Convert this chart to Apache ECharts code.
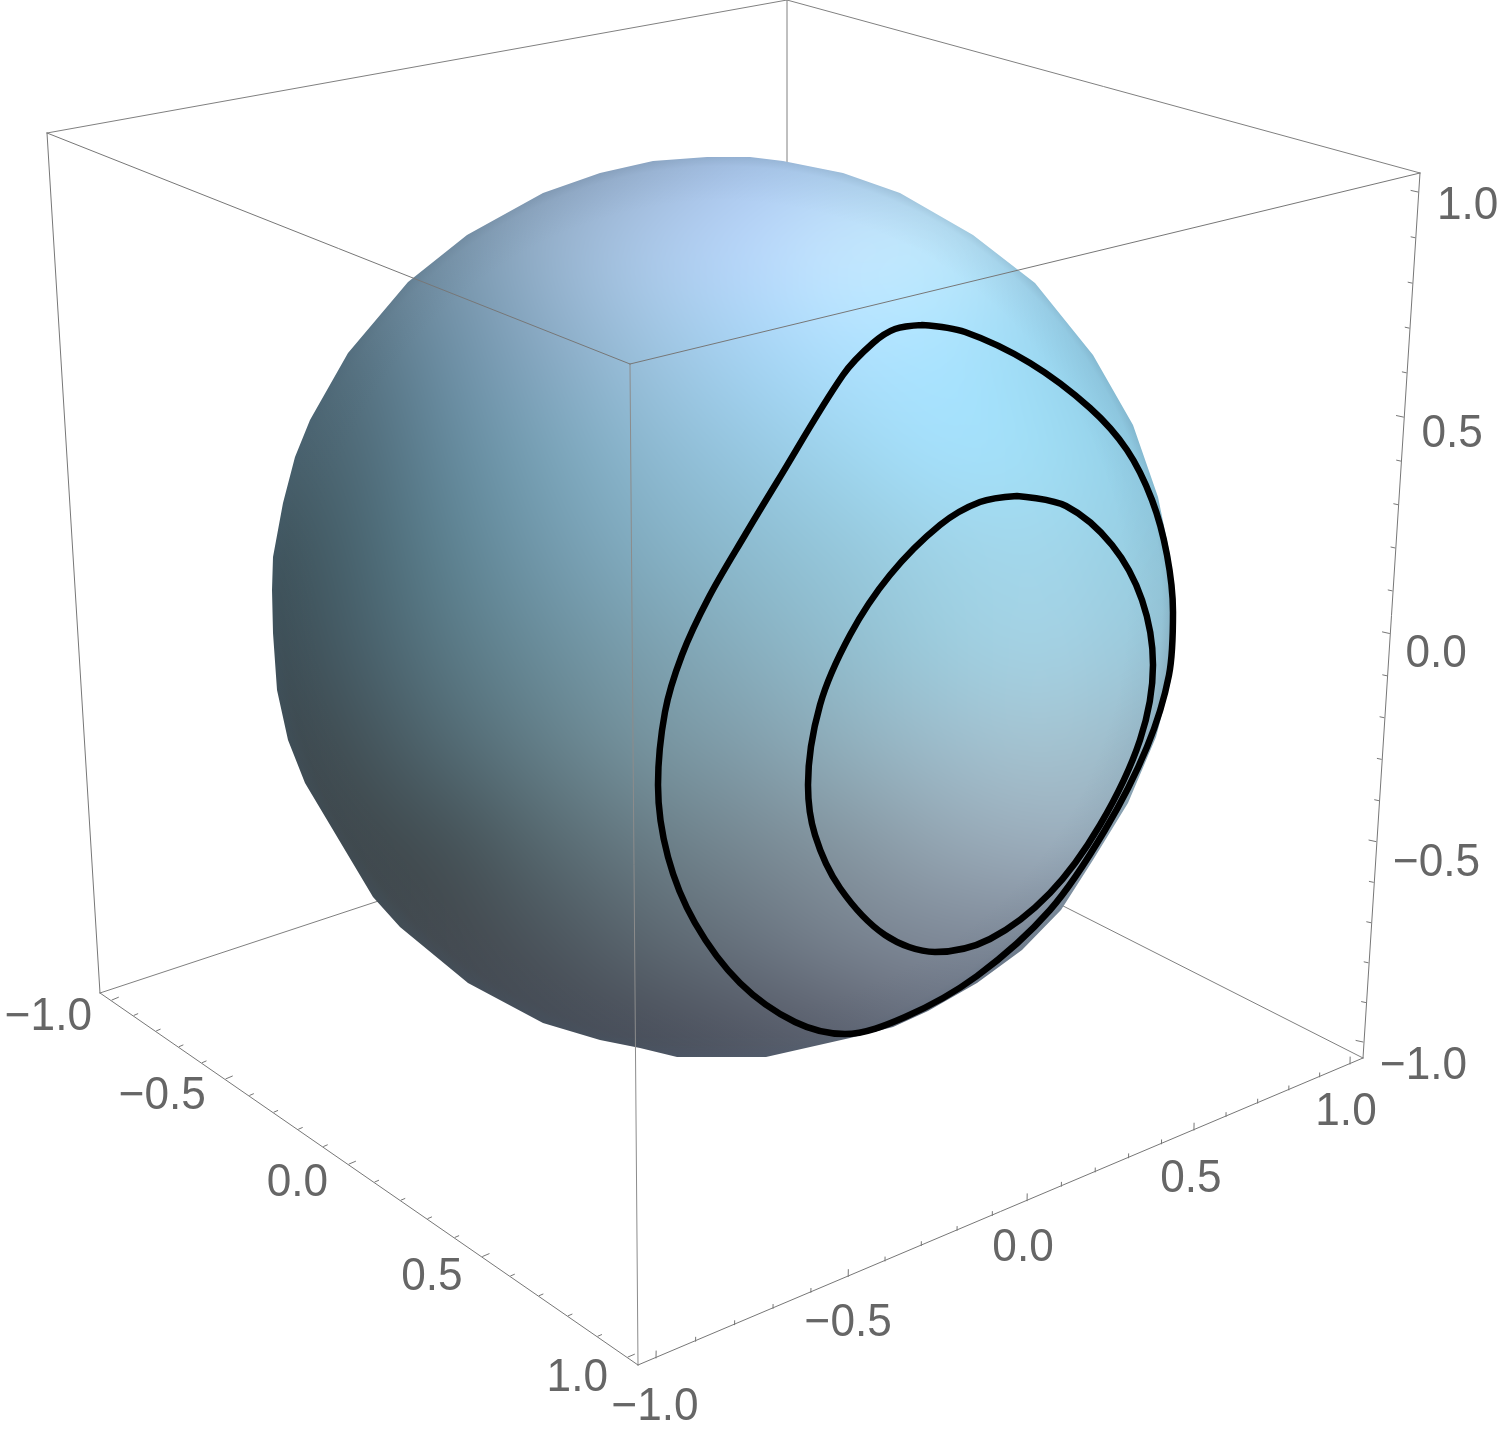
<!DOCTYPE html>
<html><head><meta charset="utf-8">
<style>html,body{margin:0;padding:0;background:#fff}#c{width:1500px;height:1435px}</style>
<script src="https://cdn.jsdelivr.net/npm/echarts@6/dist/echarts.min.js"></script>
</head><body><div id="c"></div>
<script>
// axis values
const tickValues = [-1,-0.9,-0.8,-0.7,-0.6,-0.5,-0.4,-0.3,-0.2,-0.1,0,0.1,0.2,0.3,0.4,0.5,0.6,0.7,0.8,0.9,1];
const labelValues = [-1,-0.5,0,0.5,1];
// curves on the sphere, read in view-plane units
const outerLoop = [[922,325],[965,332],[1030,363],[1090,408],[1127,450],[1152,500],[1167,555],[1173,612],[1169,675],[1147,747],[1105,830],[1050,910],[977,976],[905,1017],[845,1034],[795,1022],[740,983],[695,923],[668,857],[658,785],[665,712],[682,655],[709,597],[745,535],[777,482],[843,375],[873,343],[895,329],[922,325]];
const innerLoop = [[1017,496],[1066,506],[1112,545],[1142,600],[1153,665],[1140,740],[1100,825],[1050,893],[990,939],[935,952],[885,935],[840,888],[815,835],[808,785],[820,705],[850,635],[890,575],[940,525],[980,502],[1017,496]];
const sphereOutline = [[707,157],[750,157],[783,161],[843,173],[900,193],[973,235],[1035,283],[1093,355],[1133,425],[1158,497],[1170,555],[1175,610],[1171,680],[1156,737],[1128,803],[1093,860],[1061,910],[1022,950],[977,983],[928,1011],[893,1027],[850,1038],[766,1057],[677,1057],[640,1048],[600,1040],[543,1023],[468,983],[400,927],[373,897],[305,783],[288,740],[277,690],[273,633],[272,590],[273,557],[283,503],[295,457],[310,420],[348,353],[408,282],[467,235],[543,193],[600,173],[653,161]];
// box corners in the view plane
const cTopBack=[787,0], cTopLeft=[47,133], cTopRight=[1420,173], cTopFront=[630,364];
const cBotBack=[787,766], cBotLeft=[100,993], cBotRight=[1363,1058], cBotFront=[638,1365];
const backEdges = [[cBotLeft,cBotBack],[cBotRight,cBotBack],[cTopBack,cBotBack],[cTopLeft,cTopBack],[cTopBack,cTopRight]];
const frontEdges = [[cTopFront,cTopLeft],[cTopFront,cTopRight],[cTopLeft,cBotLeft],[cTopRight,cBotRight],[cBotLeft,cBotFront],[cBotFront,cBotRight]];
const frontVertical = [cTopFront,cBotFront];
// the three labelled axes: end points of the range, perspective factor, tick direction, label anchor and offsets
const axesDef = [
 {a:[112,1000],b:[628,1357],k:0.85,dir:[0.92,-0.39],align:'right',dx:[-20,-20,-21,-20,-20],dy:[17,17,19,21,21]},
 {a:[656,1358],b:[1350,1064],k:1.149,dir:[0.02,-1],align:'center',dx:[-1,0,-4,-3,-4],dy:[49,47,48,49,48]},
 {a:[1363,1042],b:[1418,192],k:0.9254,dir:[-1,-0.22],align:'left',dx:[17,17,16,18,19],dy:[24,22,21,17,14]}
];
// surface shade: x = 250..1250, y = 150..1050 every 100
const shadeRows = [
[[115,132,150],[120,137,155],[128,147,170],[140,162,190],[155,180,212],[168,197,235],[172,207,240],[175,215,240],[165,210,235],[150,200,225],[150,200,225]],
[[100,118,130],[108,130,146],[122,150,172],[152,180,207],[173,202,235],[186,216,252],[198,232,254],[190,232,252],[160,210,235],[135,190,215],[135,190,215]],
[[80,102,114],[86,113,128],[110,144,166],[137,170,196],[157,195,223],[166,212,244],[175,225,255],[170,228,255],[155,215,240],[135,190,215],[135,190,215]],
[[70,92,102],[78,105,118],[100,137,156],[122,164,185],[141,185,209],[151,200,226],[160,215,240],[165,225,253],[160,222,245],[145,205,230],[145,205,230]],
[[60,78,85],[72,99,110],[93,130,145],[115,154,173],[131,174,194],[141,188,208],[150,200,220],[160,212,232],[163,215,235],[150,205,225],[150,205,225]],
[[58,72,78],[70,92,102],[89,120,132],[107,142,156],[124,160,175],[136,175,191],[146,190,207],[158,205,222],[165,210,228],[155,200,218],[155,200,218]],
[[58,66,70],[66,80,86],[81,104,113],[100,127,137],[118,147,158],[130,158,171],[145,175,188],[158,188,203],[165,195,208],[155,185,200],[155,185,200]],
[[60,64,67],[62,70,74],[68,80,85],[86,104,111],[104,123,132],[119,136,146],[133,149,160],[148,165,178],[155,172,187],[150,170,185],[150,170,185]],
[[64,68,72],[65,70,74],[67,72,78],[75,84,92],[90,101,110],[103,113,125],[118,128,141],[125,135,150],[125,135,150],[125,135,150],[125,135,150]],
[[66,69,77],[66,69,77],[66,69,77],[68,72,82],[72,76,88],[80,84,97],[90,94,108],[105,110,125],[105,110,125],[105,110,125],[105,110,125]]
];

function onAxis(ax,t){
  const s=(t+1)/2, f=s*ax.k/(1-s+s*ax.k);
  return [ax.a[0]+(ax.b[0]-ax.a[0])*f, ax.a[1]+(ax.b[1]-ax.a[1])*f];
}
function isMajor(t){return Math.abs(t*2-Math.round(t*2))<1e-6;}
const tickLines=[];
axesDef.forEach(ax=>tickValues.forEach(t=>{
  const p=onAxis(ax,t), len=isMajor(t)?7:4;
  tickLines.push(p,[p[0]+ax.dir[0]*len,p[1]+ax.dir[1]*len],['-','-']);
}));
function withGaps(edges){const o=[];edges.forEach(e=>o.push(e[0],e[1],['-','-']));return o;}
function fmt(v){return (v<0?'\u2212':'')+Math.abs(v).toFixed(1);}

// Shade canvas
const W=1500,H=1435;
const shade=document.createElement('canvas');shade.width=W;shade.height=H;
(function(){
  const rows=shadeRows.length, cols=shadeRows[0].length, step=100, x0=250, y0=150;
  const small=document.createElement('canvas');small.width=cols;small.height=rows;
  const sc=small.getContext('2d'), img=sc.createImageData(cols,rows);
  shadeRows.forEach((r,j)=>r.forEach((c,i)=>{const o=(j*cols+i)*4;img.data[o]=c[0];img.data[o+1]=c[1];img.data[o+2]=c[2];img.data[o+3]=255;}));
  sc.putImageData(img,0,0);
  const g=shade.getContext('2d');
  g.fillStyle='rgb(120,140,160)';g.fillRect(0,0,W,H);
  g.imageSmoothingEnabled=true;g.imageSmoothingQuality='high';
  g.filter='blur(26px)';
  g.drawImage(small,x0-step/2,y0-step/2,cols*step,rows*step);
  g.filter='none';
  const rg=g.createRadialGradient(722,606,405,722,606,455);
  rg.addColorStop(0,'rgba(70,95,115,0)');
  rg.addColorStop(0.7,'rgba(70,95,115,0.07)');
  rg.addColorStop(1,'rgba(70,95,115,0.28)');
  g.fillStyle=rg;g.fillRect(0,0,W,H);
})();

const labelData=[];
axesDef.forEach(ax=>labelValues.forEach((v,i)=>{
  const p=onAxis(ax,v);labelData.push({x:p[0]+ax.dx[i],y:p[1]+ax.dy[i],text:fmt(v),align:ax.align});
}));

function lineSeries(data,color,width,z,smooth){
  return {type:'line',data,showSymbol:false,symbol:'none',smooth:smooth||false,z,clip:false,silent:true,animation:false,
    lineStyle:{color,width,cap:'round',join:'round'}};
}
const chart=echarts.init(document.getElementById('c'),null,{renderer:'canvas'});
chart.setOption({
  animation:false,backgroundColor:'#fff',
  grid:{left:0,right:0,top:0,bottom:0},
  xAxis:{type:'value',min:0,max:W,show:false},
  yAxis:{type:'value',min:0,max:H,inverse:true,show:false},
  tooltip:{show:false},
  series:[
    lineSeries(withGaps(backEdges),'#808080',1,1),
    {type:'custom',z:2,silent:true,clip:false,animation:false,data:sphereOutline,
     renderItem(params,api){
       if(params.dataIndex!==0) return null;
       return {type:'polygon',shape:{points:sphereOutline.map(p=>api.coord(p))},style:{fill:{image:shade,repeat:'no-repeat'},stroke:null}};
     }},
    lineSeries(frontVertical,'#8c8c8c',1,3),
    lineSeries(withGaps(frontEdges),'#777777',1,3),
    lineSeries(tickLines,'#777777',1,3),
    lineSeries(outerLoop,'#000',6.5,4,0.33),
    lineSeries(innerLoop,'#000',6.5,4,0.33),
    {type:'custom',z:5,silent:true,clip:false,animation:false,data:labelData.map(d=>[d.x,d.y]),
     renderItem(params,api){
       const d=labelData[params.dataIndex],c=api.coord([d.x,d.y]);
       return {type:'text',x:c[0],y:c[1],scaleX:0.96,style:{text:d.text,fill:'#666666',font:'46px "Liberation Sans", Arial, sans-serif',align:d.align,verticalAlign:'middle'}};
     }}
  ]
});
</script></body></html>
